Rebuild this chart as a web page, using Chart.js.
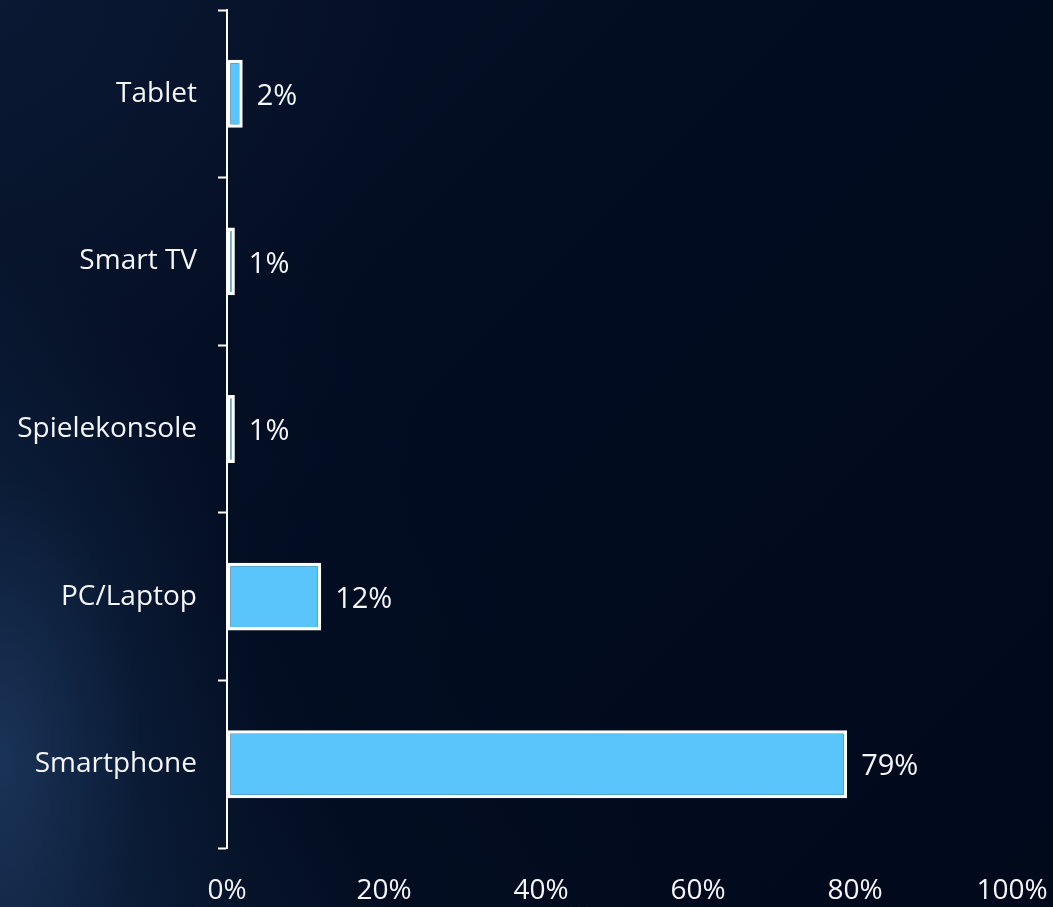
<!DOCTYPE html>
<html>
<head>
<meta charset="utf-8">
<script src="https://cdn.jsdelivr.net/npm/chart.js@4/dist/chart.umd.min.js"></script>
<style>
  html, body { margin: 0; padding: 0; }
  body {
    width: 1053px; height: 907px; overflow: hidden;
    background:
      radial-gradient(ellipse 260px 520px at 0px 760px, rgba(38,72,115,0.55), rgba(20,44,80,0.25) 55%, rgba(2,11,28,0) 100%),
      linear-gradient(60deg, rgba(30,60,100,0.35) 0%, rgba(10,25,50,0.15) 25%, rgba(2,11,28,0) 45%),
      radial-gradient(ellipse 420px 380px at 0px 0px, rgba(14,30,60,0.55), rgba(2,11,28,0) 100%),
      linear-gradient(135deg, #061229 0%, #020c20 45%, #010a1b 100%);
  }
  #wrap { position: relative; width: 1053px; height: 907px; }
</style>
</head>
<body>
<div id="wrap"><canvas id="chart" width="1053" height="907"></canvas></div>
<script>
// Devices used, share of respondents (%), listed top to bottom
const categories = ['Tablet', 'Smart TV', 'Spielekonsole', 'PC/Laptop', 'Smartphone'];
const shares = [2, 1, 1, 12, 79];
const xTickValues = [0, 20, 40, 60, 80, 100];

const FONT = '"Open Sans", "DejaVu Sans", sans-serif';
const TEXT = '#f4f6fa';

// Writes each bar's value just past its end
const valueLabels = {
  id: 'valueLabels',
  afterDatasetsDraw(chart) {
    const ctx = chart.ctx;
    const meta = chart.getDatasetMeta(0);
    ctx.save();
    ctx.font = '29px ' + FONT;
    ctx.fillStyle = TEXT;
    ctx.textAlign = 'left';
    ctx.textBaseline = 'middle';
    meta.data.forEach((bar, i) => {
      ctx.fillText(shares[i] + '%', bar.x + 14, bar.y + 3);
    });
    ctx.restore();
  }
};

new Chart(document.getElementById('chart'), {
  type: 'bar',
  data: {
    labels: categories,
    datasets: [{
      data: shares,
      backgroundColor: '#5ac5fb',
      borderColor: '#ffffff',
      borderWidth: 3.5,
      borderSkipped: false,
      categoryPercentage: 1,
      barPercentage: 0.405
    }]
  },
  options: {
    indexAxis: 'y',
    responsive: false,
    animation: false,
    layout: { padding: { top: 10, right: 41, left: 0, bottom: 0 } },
    plugins: { legend: { display: false }, tooltip: { enabled: false } },
    scales: {
      x: {
        min: 0, max: 100,
        afterBuildTicks(scale) { scale.ticks = xTickValues.map(v => ({ value: v })); },
        afterFit(scale) {
          scale.height = 59;
          scale.paddingLeft = 0;
          scale.paddingRight = 0;
        },
        grid: { display: false },
        border: { display: false },
        ticks: {
          color: TEXT,
          font: { family: FONT, size: 28 },
          padding: 18,
          maxRotation: 0,
          callback: v => v + '%'
        }
      },
      y: {
        afterFit(scale) {
          scale.width = 227;
          scale.paddingTop = 0;
          scale.paddingBottom = 0;
        },
        grid: {
          display: true,
          drawOnChartArea: false,
          drawTicks: true,
          tickLength: 9,
          tickColor: '#ffffff',
          tickWidth: 2,
          color: '#ffffff',
          offset: true
        },
        border: { display: true, color: '#ffffff', width: 2 },
        ticks: {
          color: TEXT,
          font: { family: FONT, size: 28 },
          padding: 21
        }
      }
    }
  },
  plugins: [valueLabels]
});
</script>
</body>
</html>
